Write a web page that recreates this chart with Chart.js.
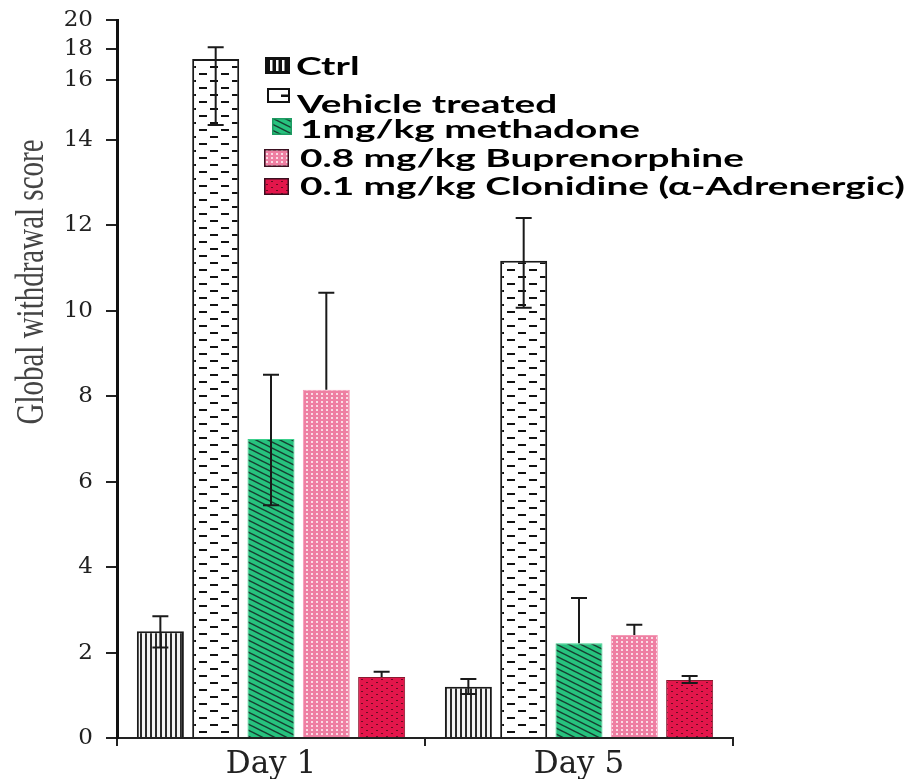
<!DOCTYPE html>
<html><head><meta charset="utf-8">
<script src="https://cdn.jsdelivr.net/npm/chart.js@4.4.0/dist/chart.umd.min.js"></script>
<style>html,body{margin:0;padding:0;background:#fff}</style>
</head><body>
<canvas id="c" width="910" height="779"></canvas>
<script>
// ---------- data ----------
const categories = ['Day 1', 'Day 5'];
const seriesNames = ['Ctrl', 'Vehicle treated', '1mg/kg methadone', '0.8 mg/kg Buprenorphine', '0.1 mg/kg Clonidine (\u03B1-Adrenergic)'];
const ctrl = [2.5, 1.2];
const vehicle = [17.35, 11.17];
const methadone = [7.0, 2.22];
const buprenorphine = [8.15, 2.41];
const clonidine = [1.43, 1.36];
const ctrlErrUp = [0.35, 0.18];
const ctrlErrDown = [0.38, 0.17];
const vehicleErrUp = [0.75, 1.0];
const vehicleErrDown = [2.85, 1.1];
const methadoneErrUp = [1.5, 1.06];
const methadoneErrDown = [1.55, 0];
const buprenorphineErrUp = [2.27, 0.24];
const buprenorphineErrDown = [0, 0];
const clonidineErrUp = [0.12, 0.09];
const clonidineErrDown = [0, 0.07];
const yTicks = [0, 2, 4, 6, 8, 10, 12, 14, 16, 18, 20];
const yTitle = 'Global withdrawal score';

// ---------- compressed-top linear scale (axis in the figure is squeezed above 14) ----------
const KNOT_V = [0, 14, 16, 18, 20];
const KNOT_F = [0, 0.833, 0.916, 0.960, 1];
function vToF(v) {
  if (v <= KNOT_V[0]) return KNOT_F[0] + (v - KNOT_V[0]) * (KNOT_F[1] - KNOT_F[0]) / (KNOT_V[1] - KNOT_V[0]);
  for (let i = 1; i < KNOT_V.length; i++) {
    if (v <= KNOT_V[i]) return KNOT_F[i-1] + (v - KNOT_V[i-1]) * (KNOT_F[i] - KNOT_F[i-1]) / (KNOT_V[i] - KNOT_V[i-1]);
  }
  const n = KNOT_V.length - 1;
  return KNOT_F[n] + (v - KNOT_V[n]) * (KNOT_F[n] - KNOT_F[n-1]) / (KNOT_V[n] - KNOT_V[n-1]);
}
function fToV(f) {
  for (let i = 1; i < KNOT_F.length; i++) {
    if (f <= KNOT_F[i] || i === KNOT_F.length - 1) return KNOT_V[i-1] + (f - KNOT_F[i-1]) * (KNOT_V[i] - KNOT_V[i-1]) / (KNOT_F[i] - KNOT_F[i-1]);
  }
}
class BrokenScale extends Chart.LinearScale {
  getPixelForValue(value) {
    if (value === null || value === undefined || isNaN(value)) return NaN;
    return this.bottom - vToF(value) * (this.bottom - this.top);
  }
  getValueForPixel(pixel) {
    return fToV((this.bottom - pixel) / (this.bottom - this.top));
  }
}
BrokenScale.id = 'broken';
BrokenScale.defaults = Chart.LinearScale.defaults;
Chart.register(BrokenScale);

// ---------- patterns ----------
function makePattern(w, h, draw) {
  const c = document.createElement('canvas'); c.width = w; c.height = h;
  const g = c.getContext('2d'); draw(g, w, h);
  return g.createPattern(c, 'repeat');
}
const ctrlPat = makePattern(5, 5, (g, w, h) => {
  g.fillStyle = '#f4f4f4'; g.fillRect(0, 0, w, h);
  g.fillStyle = '#2a2a2a'; g.fillRect(0, 0, 2, h);
});
const vehiclePat = makePattern(22, 14, (g, w, h) => {
  g.fillStyle = '#fff'; g.fillRect(0, 0, w, h);
  g.fillStyle = '#111'; g.fillRect(1, 3, 8, 2); g.fillRect(12, 10, 8, 2);
});
const greenPat = makePattern(12, 6, (g, w, h) => {
  g.fillStyle = '#27c27e'; g.fillRect(0, 0, w, h);
  g.strokeStyle = '#173f31'; g.lineWidth = 1.5;
  for (const k of [-1, 0, 1]) {
    g.beginPath(); g.moveTo(-1, k * 6 - 0.5); g.lineTo(13, k * 6 + 6.5); g.stroke();
  }
});
const pinkPat = makePattern(5, 4, (g, w, h) => {
  g.fillStyle = '#ee7fa2'; g.fillRect(0, 0, w, h);
  g.fillStyle = '#fadbe5'; g.fillRect(1, 1, 2, 2);
});
const redPat = makePattern(10, 6, (g, w, h) => {
  g.fillStyle = '#e3164b'; g.fillRect(0, 0, w, h);
  g.fillStyle = '#6a0d22'; g.fillRect(1, 1, 2, 1); g.fillRect(6, 4, 2, 1);
});

const fills = [ctrlPat, vehiclePat, greenPat, pinkPat, redPat];
const borders = ['#1a1a1a', '#1a1a1a', '#3ccf8c', '#f49ab6', '#8a1a30'];
const borderWidths = [2, 2, 1, 1, 1];
const values = [ctrl, vehicle, methadone, buprenorphine, clonidine];
const errUp = [ctrlErrUp, vehicleErrUp, methadoneErrUp, buprenorphineErrUp, clonidineErrUp];
const errDown = [ctrlErrDown, vehicleErrDown, methadoneErrDown, buprenorphineErrDown, clonidineErrDown];

// ---------- plugins ----------
const errorBars = {
  id: 'errorBars',
  afterDatasetsDraw(chart) {
    const ctx = chart.ctx, y = chart.scales.y;
    ctx.save();
    ctx.strokeStyle = '#1a1a1a'; ctx.lineWidth = 2;
    chart.data.datasets.forEach((ds, i) => {
      const meta = chart.getDatasetMeta(i);
      meta.data.forEach((bar, j) => {
        const v = ds.data[j];
        const yt = y.getPixelForValue(v + errUp[i][j]);
        const yb = y.getPixelForValue(v - errDown[i][j]);
        const x = bar.x, cw = 8;
        ctx.beginPath();
        ctx.moveTo(x, yb); ctx.lineTo(x, yt);
        ctx.moveTo(x - cw, yt); ctx.lineTo(x + cw, yt);
        if (errDown[i][j] > 0) { ctx.moveTo(x - cw, yb); ctx.lineTo(x + cw, yb); }
        ctx.stroke();
      });
    });
    ctx.restore();
  }
};

const legendBoxes = [
  {x: 265, y: 57, w: 25, h: 17},
  {x: 267, y: 88, w: 23, h: 15},
  {x: 272, y: 118, w: 20, h: 17},
  {x: 264, y: 149, w: 25, h: 18},
  {x: 264, y: 178, w: 25, h: 17}
];
const legendText = [
  {x: 296, y: 75},
  {x: 297, y: 113},
  {x: 300, y: 138},
  {x: 300, y: 167},
  {x: 300, y: 195}
];
const customLegend = {
  id: 'customLegend',
  afterDraw(chart) {
    const ctx = chart.ctx;
    ctx.save();
    legendBoxes.forEach((b, i) => {
      if (i === 0) {
        ctx.fillStyle = '#111'; ctx.fillRect(b.x, b.y, b.w, b.h);
        ctx.fillStyle = '#fff';
        for (let k = 0; k < 3; k++) ctx.fillRect(b.x + 5 + k * 6, b.y + 3, 2.5, b.h - 6);
      } else if (i === 1) {
        ctx.fillStyle = '#fff'; ctx.fillRect(b.x, b.y, b.w, b.h);
        ctx.strokeStyle = '#111'; ctx.lineWidth = 2; ctx.strokeRect(b.x + 1, b.y + 1, b.w - 2, b.h - 2);
        ctx.fillStyle = '#111'; ctx.fillRect(b.x + b.w - 9, b.y + b.h / 2 - 1, 8, 2.5);
      } else {
        ctx.fillStyle = fills[i]; ctx.fillRect(b.x, b.y, b.w, b.h);
        ctx.strokeStyle = i === 2 ? '#1f9c63' : '#3a1020'; ctx.lineWidth = 1.5;
        ctx.strokeRect(b.x + 0.75, b.y + 0.75, b.w - 1.5, b.h - 1.5);
      }
    });
    ctx.font = 'bold 25px Lato';
    ctx.fillStyle = '#000';
    ctx.textBaseline = 'alphabetic';
    ctx.textAlign = 'left';
    const sx = 605 / ctx.measureText(seriesNames[4]).width;
    seriesNames.forEach((t, i) => {
      ctx.save();
      ctx.translate(legendText[i].x, legendText[i].y);
      ctx.scale(sx, 1);
      ctx.fillText(t, 0, 0);
      ctx.restore();
    });
    ctx.save();
    ctx.translate(33, 282);
    ctx.rotate(-Math.PI / 2);
    ctx.scale(1, 1.35);
    ctx.font = '29px "Liberation Serif"';
    ctx.fillStyle = '#444';
    ctx.textAlign = 'center';
    ctx.textBaseline = 'middle';
    ctx.fillText(yTitle, 0, 0);
    ctx.restore();
    ctx.restore();
  }
};

new Chart(document.getElementById('c'), {
  type: 'bar',
  data: {
    labels: categories,
    datasets: seriesNames.map((name, i) => ({
      label: name,
      data: values[i],
      backgroundColor: fills[i],
      borderColor: borders[i],
      borderWidth: borderWidths[i],
      borderSkipped: 'bottom'
    }))
  },
  options: {
    responsive: false,
    animation: false,
    devicePixelRatio: 1,
    layout: {padding: {left: 0, right: 177, top: 20, bottom: 0}},
    plugins: {legend: {display: false}, tooltip: {enabled: false}, title: {display: false}},
    datasets: {bar: {categoryPercentage: 0.898, barPercentage: 0.85}},
    scales: {
      x: {
        grid: {display: true, drawOnChartArea: false, drawTicks: true, tickLength: 8, color: '#222', lineWidth: 2, offset: true},
        border: {display: true, color: '#222', width: 2},
        ticks: {font: {family: 'DejaVu Serif', size: 31}, color: '#222', padding: 0},
        afterFit(s) { s.height = 41; s.paddingLeft = 0; s.paddingRight = 0; }
      },
      y: {
        type: 'broken',
        min: 0, max: 20,
        afterBuildTicks(s) { s.ticks = yTicks.map(v => ({value: v})); },
        grid: {display: true, drawOnChartArea: false, drawTicks: true, tickLength: 11, color: '#222', lineWidth: 2},
        border: {display: true, color: '#111', width: 3},
        ticks: {autoSkip: false, font: {family: 'DejaVu Serif', size: 23}, color: '#222', padding: 13},
        afterFit(s) { s.width = 117; s.paddingTop = 0; s.paddingBottom = 0; }
      }
    }
  },
  plugins: [errorBars, customLegend]
});
</script>
</body></html>
